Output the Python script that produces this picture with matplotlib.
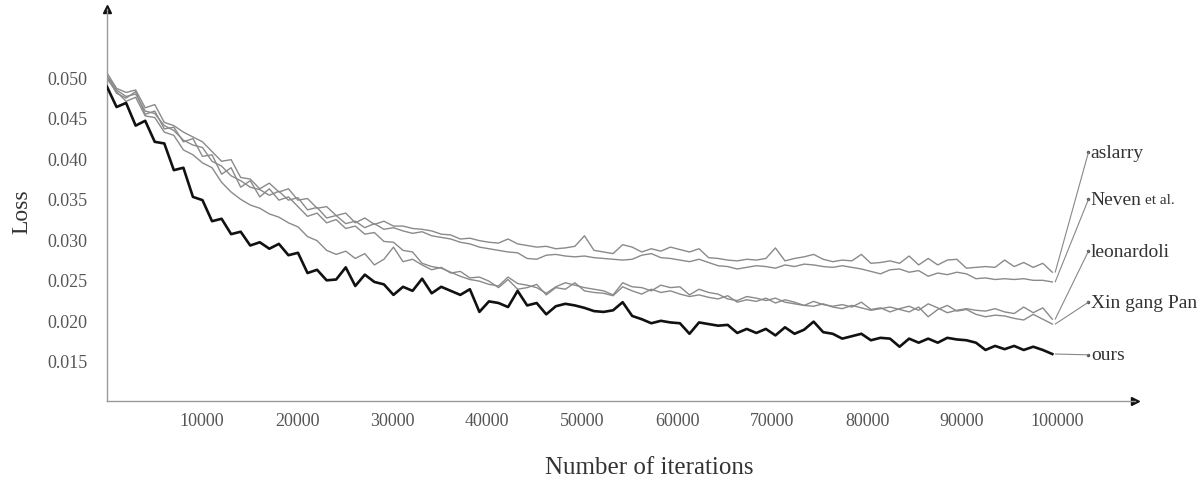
import numpy as np
import matplotlib
matplotlib.use("Agg")
import matplotlib.pyplot as plt

# iterations (100 samples over the run)
iterations = np.linspace(0, 99500, 100)

ours = [
    0.0488, 0.0463, 0.0468, 0.0440, 0.0446, 0.0420, 0.0418, 0.0385, 0.0388, 0.0352,
    0.0348, 0.0322, 0.0325, 0.0306, 0.0309, 0.0292, 0.0296, 0.0288, 0.0294, 0.0280,
    0.0283, 0.0258, 0.0262, 0.0249, 0.0250, 0.0265, 0.0242, 0.0256, 0.0247, 0.0244,
    0.0231, 0.0241, 0.0236, 0.0251, 0.0233, 0.0241, 0.0236, 0.0231, 0.0238, 0.0210,
    0.0223, 0.0221, 0.0216, 0.0236, 0.0218, 0.0221, 0.0207, 0.0217, 0.0220, 0.0218,
    0.0215, 0.0211, 0.0210, 0.0212, 0.0222, 0.0205, 0.0201, 0.0196, 0.0199, 0.0197,
    0.0196, 0.0183, 0.0197, 0.0195, 0.0193, 0.0194, 0.0184, 0.0189, 0.0184, 0.0189,
    0.0181, 0.0191, 0.0183, 0.0188, 0.0198, 0.0185, 0.0183, 0.0177, 0.0180, 0.0183,
    0.0175, 0.0178, 0.0177, 0.0167, 0.0177, 0.0172, 0.0177, 0.0172, 0.0178, 0.0176,
    0.0175, 0.0172, 0.0163, 0.0168, 0.0164, 0.0168, 0.0163, 0.0167, 0.0163, 0.0158,
]

aslarry = [
    0.0505, 0.0486, 0.0481, 0.0484, 0.0462, 0.0466, 0.0444, 0.0440, 0.0432, 0.0426,
    0.0420, 0.0408, 0.0396, 0.0398, 0.0376, 0.0374, 0.0362, 0.0369, 0.0358, 0.0362,
    0.0348, 0.0350, 0.0338, 0.0340, 0.0329, 0.0332, 0.0320, 0.0326, 0.0318, 0.0322,
    0.0316, 0.0316, 0.0313, 0.0312, 0.0310, 0.0306, 0.0305, 0.0300, 0.0301, 0.0298,
    0.0296, 0.0295, 0.0300, 0.0294, 0.0292, 0.0290, 0.0291, 0.0288, 0.0289, 0.0291,
    0.0304, 0.0286, 0.0284, 0.0282, 0.0293, 0.0290, 0.0284, 0.0288, 0.0285, 0.0290,
    0.0287, 0.0284, 0.0288, 0.0277, 0.0276, 0.0274, 0.0273, 0.0275, 0.0274, 0.0276,
    0.0289, 0.0273, 0.0276, 0.0278, 0.0281, 0.0275, 0.0272, 0.0274, 0.0273, 0.0281,
    0.0270, 0.0271, 0.0273, 0.0270, 0.0279, 0.0268, 0.0276, 0.0268, 0.0274, 0.0275,
    0.0264, 0.0265, 0.0266, 0.0265, 0.0274, 0.0266, 0.0271, 0.0265, 0.0270, 0.0259,
]

neven = [
    0.0502, 0.0484, 0.0476, 0.0479, 0.0458, 0.0455, 0.0440, 0.0434, 0.0422, 0.0416,
    0.0413, 0.0396, 0.0390, 0.0378, 0.0372, 0.0364, 0.0361, 0.0354, 0.0359, 0.0348,
    0.0351, 0.0336, 0.0339, 0.0326, 0.0329, 0.0319, 0.0322, 0.0314, 0.0319, 0.0312,
    0.0314, 0.0310, 0.0307, 0.0309, 0.0304, 0.0302, 0.0300, 0.0296, 0.0294, 0.0290,
    0.0288, 0.0286, 0.0284, 0.0283, 0.0276, 0.0275, 0.0280, 0.0281, 0.0279, 0.0278,
    0.0279, 0.0277, 0.0276, 0.0275, 0.0274, 0.0275, 0.0280, 0.0282, 0.0277, 0.0276,
    0.0274, 0.0272, 0.0275, 0.0271, 0.0267, 0.0266, 0.0263, 0.0265, 0.0267, 0.0266,
    0.0264, 0.0268, 0.0266, 0.0269, 0.0268, 0.0266, 0.0265, 0.0267, 0.0265, 0.0263,
    0.0260, 0.0257, 0.0262, 0.0263, 0.0259, 0.0261, 0.0254, 0.0258, 0.0256, 0.0259,
    0.0257, 0.0251, 0.0252, 0.0250, 0.0251, 0.0250, 0.0251, 0.0249, 0.0249, 0.0247,
]

leonardoli = [
    0.0500, 0.0480, 0.0474, 0.0482, 0.0454, 0.0458, 0.0436, 0.0438, 0.0420, 0.0424,
    0.0402, 0.0404, 0.0380, 0.0388, 0.0364, 0.0372, 0.0352, 0.0362, 0.0348, 0.0352,
    0.0340, 0.0328, 0.0332, 0.0320, 0.0324, 0.0313, 0.0316, 0.0306, 0.0308, 0.0297,
    0.0296, 0.0286, 0.0284, 0.0270, 0.0266, 0.0264, 0.0259, 0.0254, 0.0250, 0.0248,
    0.0244, 0.0242, 0.0253, 0.0245, 0.0243, 0.0240, 0.0233, 0.0241, 0.0246, 0.0243,
    0.0240, 0.0238, 0.0236, 0.0231, 0.0246, 0.0241, 0.0240, 0.0236, 0.0243, 0.0240,
    0.0241, 0.0231, 0.0238, 0.0234, 0.0232, 0.0226, 0.0224, 0.0229, 0.0227, 0.0224,
    0.0227, 0.0222, 0.0220, 0.0218, 0.0223, 0.0219, 0.0217, 0.0219, 0.0216, 0.0222,
    0.0213, 0.0215, 0.0210, 0.0214, 0.0217, 0.0212, 0.0220, 0.0215, 0.0209, 0.0212,
    0.0214, 0.0212, 0.0211, 0.0214, 0.0210, 0.0208, 0.0216, 0.0209, 0.0215, 0.0201,
]

xin_gang_pan = [
    0.0498, 0.0482, 0.0470, 0.0475, 0.0452, 0.0450, 0.0432, 0.0428, 0.0410, 0.0404,
    0.0394, 0.0388, 0.0370, 0.0358, 0.0349, 0.0342, 0.0338, 0.0331, 0.0327, 0.0320,
    0.0315, 0.0303, 0.0298, 0.0286, 0.0281, 0.0285, 0.0276, 0.0282, 0.0268, 0.0275,
    0.0290, 0.0272, 0.0275, 0.0268, 0.0262, 0.0265, 0.0258, 0.0260, 0.0252, 0.0253,
    0.0248, 0.0240, 0.0250, 0.0238, 0.0240, 0.0244, 0.0231, 0.0240, 0.0238, 0.0246,
    0.0236, 0.0234, 0.0233, 0.0230, 0.0241, 0.0236, 0.0232, 0.0238, 0.0234, 0.0236,
    0.0232, 0.0229, 0.0231, 0.0228, 0.0226, 0.0230, 0.0222, 0.0225, 0.0223, 0.0227,
    0.0221, 0.0225, 0.0222, 0.0218, 0.0217, 0.0220, 0.0216, 0.0214, 0.0218, 0.0215,
    0.0212, 0.0214, 0.0216, 0.0213, 0.0210, 0.0216, 0.0204, 0.0213, 0.0218, 0.0211,
    0.0213, 0.0207, 0.0204, 0.0206, 0.0205, 0.0202, 0.0200, 0.0207, 0.0201, 0.0195,
]

names = ["aslarry", "Neven", "leonardoli", "Xin gang Pan", "ours"]
label_y = [0.0407, 0.0349, 0.0285, 0.0222, 0.0157]
x_ticks = [10000, 20000, 30000, 40000, 50000, 60000, 70000, 80000, 90000, 100000]
y_ticks = [0.015, 0.020, 0.025, 0.030, 0.035, 0.040, 0.045, 0.050]

plt.rcParams['font.family'] = ['Liberation Serif', 'DejaVu Serif']

fig = plt.figure(figsize=(12.02, 4.81), dpi=100)
ax = fig.add_axes([107 / 1202, 79 / 481, 1028 / 1202, 392 / 481])

gray = '#8a8a8a'
series = [aslarry, neven, leonardoli, xin_gang_pan, ours]
for name, vals in zip(names, series):
    if name == "ours":
        ax.plot(iterations, vals, color='#111111', lw=1.9, zorder=3)
    else:
        ax.plot(iterations, vals, color=gray, lw=1.0, zorder=2)

ax.set_xlim(0, 108200)
ax.set_ylim(0.010, 0.0584)

for sp in ['top', 'right']:
    ax.spines[sp].set_visible(False)
for sp in ['left', 'bottom']:
    ax.spines[sp].set_color('#9a9a9a')
    ax.spines[sp].set_linewidth(1.0)

# arrow heads at the axis ends
ax.plot([0], [1], marker='^', color='#111111', markersize=6, transform=ax.transAxes, clip_on=False)
ax.plot([1], [0], marker='>', color='#111111', markersize=6, transform=ax.transAxes, clip_on=False)

ax.set_xticks(x_ticks)
ax.set_xticklabels([str(t) for t in x_ticks])
ax.set_yticks(y_ticks)
ax.set_yticklabels(['%.3f' % t for t in y_ticks])
ax.tick_params(axis='both', length=0, labelsize=13, labelcolor='#555555')
ax.tick_params(axis='x', pad=8)
ax.tick_params(axis='y', pad=14)

fig.text(649 / 1202, 1 - 468 / 481, 'Number of iterations', ha='center', va='center',
         fontsize=18, color='#333333')
fig.text(22 / 1202, 1 - 212 / 481, 'Loss', ha='center', va='center', rotation=90,
         fontsize=17, color='#333333')

# leader lines to the series names
label_x = 103300
for name, vals, ly in zip(names, series, label_y):
    end_x = iterations[-1] + 300
    ax.annotate('', xy=(end_x, vals[-1]), xytext=(label_x, ly),
                arrowprops=dict(arrowstyle='-', color='#888888', lw=0.8,
                                shrinkA=0, shrinkB=0), annotation_clip=False)
    ax.plot([label_x], [ly], marker='o', markersize=1.5, color='#555555', clip_on=False)
    ax.text(label_x + 250, ly, name, ha='left', va='center', fontsize=14,
            color='#333333', clip_on=False)

# smaller "et al." after Neven
ax.annotate('et al.', xy=(label_x + 250, label_y[1]), xytext=(39, 0),
            textcoords='offset points', ha='left', va='center', fontsize=11,
            color='#333333', annotation_clip=False)

fig.savefig('out.png', dpi=100)
